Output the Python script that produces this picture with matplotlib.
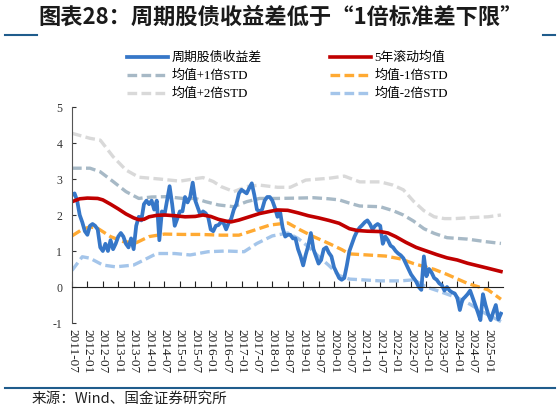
import numpy as np
import matplotlib
matplotlib.use('Agg')
import matplotlib.pyplot as plt
from matplotlib.lines import Line2D
from matplotlib.font_manager import FontProperties

plt.rcParams['font.family'] = ['Liberation Serif', 'Noto Sans CJK SC']
plt.rcParams['axes.unicode_minus'] = False

# 周期股债收益差, monthly from 2011-07
spread = [2.55, 2.60, 2.40, 2.00, 1.80, 1.55, 1.45, 1.70, 1.75, 1.70,
          1.60, 1.10, 1.00, 1.20, 1.00, 1.30, 1.05, 1.20, 1.40, 1.50,
          1.40, 1.20, 1.10, 1.35, 1.05, 1.70, 1.95, 1.85, 2.30, 2.40,
          2.30, 2.40, 2.15, 2.40, 1.30, 2.10, 2.00, 2.40, 2.80, 2.30,
          1.70, 1.90, 2.10, 2.10, 2.50, 2.35, 2.50, 2.90, 2.40, 2.20,
          2.00, 2.10, 2.05, 1.95, 1.60, 1.55, 1.70, 1.72, 1.80, 1.78,
          1.60, 1.78, 1.90, 2.15, 2.30, 2.60, 2.70, 2.65, 2.60, 2.75,
          2.88, 2.55, 2.15, 2.10, 2.15, 2.40, 2.50, 2.50, 2.40, 2.20,
          1.95, 2.10, 1.65, 1.40, 1.45, 1.45, 1.35, 1.35, 1.05, 0.85,
          0.60, 0.90, 1.15, 1.50, 1.05, 0.85, 0.65, 0.75, 1.05, 1.10,
          0.95, 0.85, 0.55, 0.40, 0.25, 0.20, 0.25, 0.60, 1.00, 1.20,
          1.40, 1.55, 1.65, 1.72, 1.80, 1.85, 1.75, 1.60, 1.70, 1.75,
          1.70, 1.20, 1.40, 1.30, 1.15, 1.10, 1.00, 0.93, 0.88, 0.80,
          0.65, 0.50, 0.35, 0.25, 0.15, 0.00, -0.08, 0.85, 0.30, 0.50,
          0.40, 0.25, 0.20, 0.10, 0.05, -0.10, 0.00, -0.10, -0.15, -0.18,
          -0.30, -0.64, -0.35, -0.28, -0.20, -0.10, -0.30, -0.50, -0.70, -0.92,
          -0.20, -0.50, -0.75, -0.92, -0.70, -0.50, -0.90, -0.74]

# 5年滚动均值 (month index, value)
mean_m = [0, 3, 6, 10, 12, 15, 18, 21, 24, 26, 28, 30, 33, 36, 40, 44, 48, 51,
          54, 57, 60, 62, 65, 69, 73, 77, 80, 84, 88, 92, 96, 100, 104, 108,
          111, 115, 120, 123, 126, 130, 134, 138, 142, 146, 150, 154, 158, 162, 167]
mean_v = [2.37, 2.45, 2.47, 2.46, 2.42, 2.30, 2.17, 2.03, 1.92, 1.87, 1.88, 1.95,
          1.99, 2.00, 1.98, 1.95, 1.96, 2.00, 1.96, 1.88, 1.83, 1.81, 1.86, 1.95,
          2.04, 2.10, 2.14, 2.13, 2.06, 1.98, 1.92, 1.85, 1.77, 1.62, 1.57, 1.55,
          1.54, 1.50, 1.40, 1.24, 1.10, 1.00, 0.90, 0.81, 0.75, 0.66, 0.59, 0.52, 0.43]

# 均值+1倍STD
p1_m = [0, 7, 11, 16, 21, 26, 31, 37, 43, 48, 52, 57, 63, 68, 73, 80, 88, 94,
        100, 104, 108, 112, 120, 125, 129, 133, 137, 141, 146, 154, 161, 167]
p1_v = [3.30, 3.30, 3.20, 2.93, 2.65, 2.46, 2.50, 2.51, 2.46, 2.46, 2.37, 2.28,
        2.23, 2.37, 2.46, 2.46, 2.47, 2.48, 2.45, 2.42, 2.33, 2.25, 2.23, 2.12,
        2.00, 1.83, 1.62, 1.49, 1.37, 1.33, 1.26, 1.21]

# 均值+2倍STD
p2_m = [0, 7, 11, 16, 21, 26, 34, 42, 49, 51, 55, 58, 63, 68, 73, 80, 85, 91,
        100, 106, 112, 120, 125, 129, 133, 137, 141, 145, 149, 156, 162, 167]
p2_v = [4.27, 4.13, 4.08, 3.62, 3.25, 3.05, 3.00, 2.94, 3.02, 3.04, 2.93, 2.79,
        2.65, 2.79, 2.83, 2.77, 2.77, 2.97, 3.02, 3.08, 2.92, 2.92, 2.83, 2.70,
        2.38, 2.12, 1.95, 1.90, 1.90, 1.93, 1.95, 2.00]

# 均值-1倍STD
n1_m = [0, 4, 7, 10, 15, 20, 25, 30, 36, 43, 50, 58, 65, 71, 77, 84, 89, 94,
        100, 105, 108, 115, 122, 128, 133, 141, 146, 154, 162, 167]
n1_v = [1.42, 1.60, 1.67, 1.63, 1.40, 1.26, 1.23, 1.40, 1.47, 1.46, 1.46, 1.44,
        1.44, 1.58, 1.72, 1.78, 1.58, 1.40, 1.21, 1.04, 0.92, 0.89, 0.86, 0.78,
        0.65, 0.49, 0.35, 0.10, -0.08, -0.34]

# 均值-2倍STD
n2_m = [0, 4, 7, 12, 17, 24, 28, 33, 40, 46, 53, 60, 67, 72, 78, 84, 88, 92,
        96, 100, 104, 108, 120, 128, 133, 138, 143, 150, 155, 160, 167]
n2_v = [0.46, 0.84, 0.80, 0.61, 0.56, 0.61, 0.75, 0.93, 0.93, 0.89, 0.98, 1.00,
        0.98, 1.21, 1.42, 1.50, 1.35, 1.12, 0.85, 0.60, 0.32, 0.22, 0.17, 0.17,
        0.20, 0.00, -0.12, -0.30, -0.48, -0.70, -0.96]

tick_pos = list(range(0, 163, 6))
tick_labels = ['2011-07', '2012-01', '2012-07', '2013-01', '2013-07', '2014-01',
               '2014-07', '2015-01', '2015-07', '2016-01', '2016-07', '2017-01',
               '2017-07', '2018-01', '2018-07', '2019-01', '2019-07', '2020-01',
               '2020-07', '2021-01', '2021-07', '2022-01', '2022-07', '2023-01',
               '2023-07', '2024-01', '2024-07', '2025-01']

W, H = 559, 411
fig = plt.figure(figsize=(W / 100, H / 100), dpi=100)
ax = fig.add_axes([72 / W, 1 - 323 / H, (503 - 72) / W, (323 - 107) / H])

dash = (2.9, 1.3)
l_p2, = ax.plot(p2_m, p2_v, color='#D9D9D9', lw=2.4, dashes=dash, label='均值+2倍STD')
l_p1, = ax.plot(p1_m, p1_v, color='#A7B9C6', lw=2.4, dashes=dash, label='均值+1倍STD')
l_n2, = ax.plot(n2_m, n2_v, color='#A4C5EA', lw=2.4, dashes=dash, label='均值-2倍STD')
l_n1, = ax.plot(n1_m, n1_v, color='#FFAA33', lw=2.4, dashes=dash, label='均值-1倍STD')
l_spread, = ax.plot(np.arange(len(spread)), spread, color='#3677C8', lw=2.7,
                    label='周期股债收益差')
l_mean, = ax.plot(mean_m, mean_v, color='#C00000', lw=2.6, label='5年滚动均值')

# x axis line sits on zero; spine moved before ticks are styled
for s in ['top', 'right']:
    ax.spines[s].set_visible(False)
ax.spines['bottom'].set_position(('data', 0))
ax.spines['bottom'].set_color('#222222')
ax.spines['left'].set_color('#555555')

ax.set_xlim(0, 167.8)
ax.set_ylim(-1, 5)
ax.set_yticks(range(-1, 6))
ax.set_xticks(tick_pos)
ax.set_xticklabels(tick_labels)
ax.tick_params(axis='x', direction='in', length=4, width=0.8, pad=30,
               colors='#222222', labelsize=9.5, labelrotation=270)
ax.tick_params(axis='y', direction='in', length=3, width=0.8, pad=7, labelsize=8.5,
               colors='#333333')

leg_font = FontProperties(family=['Liberation Serif', 'Noto Sans CJK SC'], size=9.3)
for hs, x0 in [([l_spread, l_p1, l_p2], 127), ([l_mean, l_n1, l_n2], 330)]:
    fig.legend(handles=hs, loc='upper left', bbox_to_anchor=(x0 / W, 1 - 52 / H),
               frameon=False, prop=leg_font, handlelength=3.2, handletextpad=0.25,
               labelspacing=0.45, borderpad=0, borderaxespad=0)

fig.text(281 / W, 1 - 17 / H, '图表28：周期股债收益差低于“1倍标准差下限”',
         ha='center', va='center', fontsize=16, fontweight='bold',
         fontstyle='italic', family=['Noto Sans CJK SC'], color='#1a1a1a')
line_c = '#1F5C8C'
fig.add_artist(Line2D([5 / W, 37 / W], [1 - 35 / H] * 2, color=line_c, lw=1.5))
fig.add_artist(Line2D([543 / W, 555 / W], [1 - 35 / H] * 2, color=line_c, lw=1.5))
fig.add_artist(Line2D([5 / W, 555 / W], [1 - 388 / H] * 2, color=line_c, lw=1.5))
fig.text(32 / W, 1 - 398.5 / H, '来源：Wind、国金证券研究所', ha='left', va='center',
         fontsize=10.5, family=['Noto Sans CJK SC'], color='#222222')

fig.savefig('out.png', dpi=100)
